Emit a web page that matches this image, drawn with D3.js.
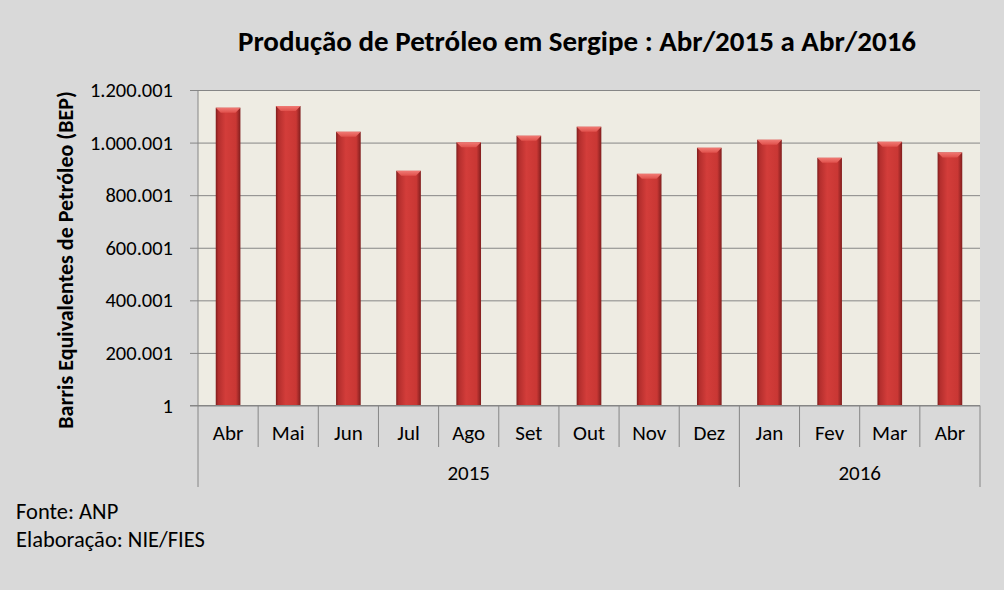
<!DOCTYPE html>
<html>
<head>
<meta charset="utf-8">
<script src="https://cdn.jsdelivr.net/npm/d3@7"></script>
<style>
	body { margin: 0; background: #d9d9d9; }
	svg text { font-family: Carlito, Calibri, Lato, "Open Sans", sans-serif; fill: #000; }
</style>
</head>
<body>
<svg id="chart" width="1004" height="590"></svg>
<script>
// data
var months = ['Abr', 'Mai', 'Jun', 'Jul', 'Ago', 'Set', 'Out', 'Nov', 'Dez', 'Jan', 'Fev', 'Mar', 'Abr'];
var years = ['2015', '2015', '2015', '2015', '2015', '2015', '2015', '2015', '2015', '2016', '2016', '2016', '2016'];
var production = [1132600, 1139000, 1041100, 892600, 1000800, 1026000, 1060200, 881100, 980200, 1010700, 942100, 1003000, 962700];
var yTicks = [1, 200001, 400001, 600001, 800001, 1000001, 1200001];

var title = 'Produção de Petróleo em Sergipe : Abr/2015 a Abr/2016';
var yTitle = 'Barris Equivalentes de Petróleo (BEP)';
var notes = ['Fonte: ANP', 'Elaboração: NIE/FIES'];

var svg = d3.select('#chart');
var W = 1004, H = 590;
var plot = {left: 198, right: 980, top: 90, bottom: 405.5};
var fontStack = 'Carlito, Calibri, Lato, "Open Sans", sans-serif';

svg.append('rect').attr('width', W).attr('height', H).attr('fill', '#d9d9d9');

var ptBR = d3.formatLocale({decimal: ',', thousands: '.', grouping: [3], currency: ['R$', '']});
var fmt = ptBR.format(',d');

var x = d3.scaleBand()
	.domain(d3.range(months.length))
	.range([plot.left, plot.right])
	.paddingInner(0.59)
	.paddingOuter(0.295);
var xCat = d3.scaleBand()
	.domain(d3.range(months.length))
	.range([plot.left, plot.right]);
var y = d3.scaleLinear()
	.domain([1, 1200001])
	.range([plot.bottom, plot.top]);

// plot background
svg.append('rect')
	.attr('x', plot.left).attr('y', plot.top)
	.attr('width', plot.right - plot.left).attr('height', plot.bottom - plot.top)
	.attr('fill', '#eeece3');

// gridlines + y axis
var yAxis = d3.axisLeft(y)
	.tickValues(yTicks)
	.tickFormat(fmt)
	.tickSize(plot.right - plot.left + 8)
	.tickPadding(17);
var yg = svg.append('g')
	.attr('transform', 'translate(' + plot.right + ',0)')
	.call(yAxis);
yg.select('.domain').remove();
yg.selectAll('.tick line').attr('stroke', '#868686').attr('stroke-width', 1);
yg.selectAll('.tick text').attr('font-size', 20.5).style('font-family', fontStack);

svg.append('line')
	.attr('x1', plot.left).attr('x2', plot.left)
	.attr('y1', plot.top).attr('y2', plot.bottom)
	.attr('stroke', '#868686');

// bars
var defs = svg.append('defs');
var grad = defs.append('linearGradient').attr('id', 'barGrad')
	.attr('x1', '0%').attr('x2', '100%').attr('y1', '0%').attr('y2', '0%');
[['0%', '#7e1d1d'], ['10%', '#b32e2d'], ['40%', '#d33d3a'], ['82%', '#c93734'], ['100%', '#801e1e']]
	.forEach(function (s) { grad.append('stop').attr('offset', s[0]).attr('stop-color', s[1]); });
var capGrad = defs.append('linearGradient').attr('id', 'capGrad')
	.attr('x1', '0%').attr('x2', '0%').attr('y1', '0%').attr('y2', '100%');
[['0%', '#f07a74'], ['100%', '#e0504b']]
	.forEach(function (s) { capGrad.append('stop').attr('offset', s[0]).attr('stop-color', s[1]); });

var bw = x.bandwidth();
var bars = svg.append('g').attr('class', 'bars')
	.selectAll('g')
	.data(production)
	.enter().append('g');

bars.append('rect')
	.attr('x', function (d, i) { return x(i); })
	.attr('y', function (d) { return y(d); })
	.attr('width', bw)
	.attr('height', function (d) { return plot.bottom - y(d); })
	.attr('fill', 'url(#barGrad)');

bars.append('path')
	.attr('d', function (d, i) {
		var x0 = x(i), x1 = x(i) + bw, t = y(d), c = 5;
		return 'M' + x0 + ',' + t + 'L' + x1 + ',' + t + 'L' + (x1 - c) + ',' + (t + c) +
			'L' + (x0 + c) + ',' + (t + c) + 'Z';
	})
	.attr('fill', 'url(#capGrad)');

// x axis baseline
svg.append('line')
	.attr('x1', plot.left - 8).attr('x2', plot.right)
	.attr('y1', plot.bottom).attr('y2', plot.bottom)
	.attr('stroke', '#868686');

// category separators
var yearStart = [0];
years.forEach(function (yr, i) { if (i > 0 && yr !== years[i - 1]) yearStart.push(i); });
var seps = d3.range(months.length + 1);
svg.append('g').selectAll('line')
	.data(seps)
	.enter().append('line')
	.attr('x1', function (i) { return i < months.length ? xCat(i) : plot.right; })
	.attr('x2', function (i) { return i < months.length ? xCat(i) : plot.right; })
	.attr('y1', plot.bottom)
	.attr('y2', function (i) { return (yearStart.indexOf(i) >= 0 || i === months.length) ? 487 : 447; })
	.attr('stroke', '#868686');

svg.append('g').selectAll('text')
	.data(months)
	.enter().append('text')
	.attr('x', function (d, i) { return xCat(i) + xCat.bandwidth() / 2; })
	.attr('y', 440)
	.attr('text-anchor', 'middle')
	.attr('font-size', 21)
	.text(function (d) { return d; });

// year labels
var yearGroups = d3.groups(years.map(function (yr, i) { return {yr: yr, i: i}; }), function (d) { return d.yr; });
svg.append('g').selectAll('text')
	.data(yearGroups)
	.enter().append('text')
	.attr('x', function (g) {
		var first = g[1][0].i, last = g[1][g[1].length - 1].i;
		return (xCat(first) + xCat(last) + xCat.bandwidth()) / 2;
	})
	.attr('y', 480)
	.attr('text-anchor', 'middle')
	.attr('font-size', 21)
	.text(function (g) { return g[0]; });

// titles
svg.append('text')
	.attr('x', 577).attr('y', 51)
	.attr('text-anchor', 'middle')
	.attr('font-size', 29)
	.attr('font-weight', 'bold')
	.text(title);

svg.append('text')
	.attr('transform', 'translate(73,260) rotate(-90)')
	.attr('text-anchor', 'middle')
	.attr('font-size', 22)
	.attr('font-weight', 'bold')
	.text(yTitle);

svg.append('g').selectAll('text')
	.data(notes)
	.enter().append('text')
	.attr('x', 16)
	.attr('y', function (d, i) { return 519 + i * 28; })
	.attr('font-size', 22.5)
	.text(function (d) { return d; });
</script>
</body>
</html>
